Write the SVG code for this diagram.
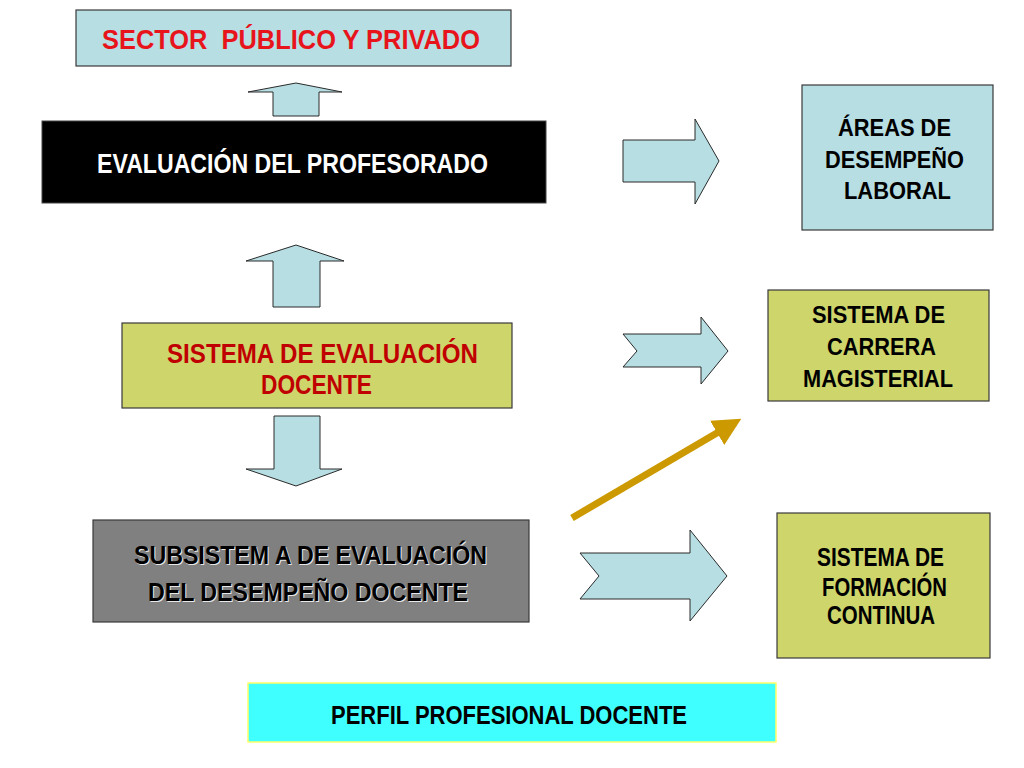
<svg xmlns="http://www.w3.org/2000/svg" width="1024" height="768" viewBox="0 0 1024 768">
<defs>
<style>
.t{font-family:"Liberation Sans Narrow","Liberation Sans",Arial,sans-serif;font-weight:bold;text-anchor:start;white-space:pre}
.box{stroke:#3a3a3a;stroke-width:1.2}
.lb{fill:#B7DEE3}
.ol{fill:#CED56B}
.arr{fill:#B7DEE3;stroke:#2a2a2a;stroke-width:1}
</style>
<marker id="gold" viewBox="0 0 10 10" refX="2" refY="5" markerWidth="4" markerHeight="4" orient="auto" markerUnits="strokeWidth">
<path d="M0,0 L10,5 L0,10 Z" fill="#CC9900"/>
</marker>
</defs>
<rect width="1024" height="768" fill="#ffffff"/>

<g id="connectors">
<polygon class="arr" points="273,116 319,116 319,92 342,92 296,83 248,92 273,92"/>
<polygon class="arr" points="273,307 320,307 320,261 344,261 296,245 246,261 273,261"/>
<polygon class="arr" points="274,416 320,416 320,469 342,469 296,486 246,469 274,469"/>
<polygon class="arr" points="623,140 695,140 695,119 719,161 695,204 695,182 623,182"/>
<polygon class="arr" points="623,334 701,334 701,317 728,351 701,384 701,367 623,367 637,351"/>
<polygon class="arr" points="580,553 690,553 690,530 727,576 690,621 690,599 580,599 599,576"/>
<line x1="572" y1="518" x2="722" y2="430" stroke="#CC9900" stroke-width="7" marker-end="url(#gold)"/>
</g>

<g id="sector">
<rect class="box lb" x="76" y="10" width="435" height="56"/>
<text class="t" x="102" y="49" font-size="28" fill="#E8141C" textLength="378" lengthAdjust="spacingAndGlyphs" xml:space="preserve">SECTOR  PÚBLICO Y PRIVADO</text>
</g>

<g id="evaluacion-profesorado">
<rect x="42" y="121" width="504" height="82" fill="#000000" stroke="#444" stroke-width="1"/>
<text class="t" x="97" y="173" font-size="27" fill="#ffffff" textLength="391" lengthAdjust="spacingAndGlyphs">EVALUACIÓN DEL PROFESORADO</text>
</g>

<g id="sistema-evaluacion">
<rect class="box ol" x="122" y="323" width="390" height="85"/>
<text class="t" x="167" y="363" font-size="27" fill="#C00000" textLength="311" lengthAdjust="spacingAndGlyphs">SISTEMA DE EVALUACIÓN</text>
<text class="t" x="261" y="394" font-size="27" fill="#C00000" textLength="111" lengthAdjust="spacingAndGlyphs">DOCENTE</text>
</g>

<g id="subsistema">
<rect class="box" x="93" y="520" width="436" height="102" fill="#808080"/>
<text class="t" x="135" y="565" font-size="25" fill="#e8e8e8" textLength="353" lengthAdjust="spacingAndGlyphs">SUBSISTEM A DE EVALUACIÓN</text>
<text class="t" x="149" y="602" font-size="25" fill="#e8e8e8" textLength="320" lengthAdjust="spacingAndGlyphs">DEL DESEMPEÑO DOCENTE</text>
<text class="t" x="134" y="564" font-size="25" fill="#000000" textLength="353" lengthAdjust="spacingAndGlyphs">SUBSISTEM A DE EVALUACIÓN</text>
<text class="t" x="148" y="601" font-size="25" fill="#000000" textLength="320" lengthAdjust="spacingAndGlyphs">DEL DESEMPEÑO DOCENTE</text>
</g>

<g id="areas">
<rect class="box lb" x="802" y="85" width="191" height="145"/>
<text class="t" x="838" y="136" font-size="24" fill="#000" textLength="113" lengthAdjust="spacingAndGlyphs">ÁREAS DE</text>
<text class="t" x="825" y="168" font-size="24" fill="#000" textLength="139" lengthAdjust="spacingAndGlyphs">DESEMPEÑO</text>
<text class="t" x="844" y="199" font-size="24" fill="#000" textLength="107" lengthAdjust="spacingAndGlyphs">LABORAL</text>
</g>

<g id="carrera">
<rect class="box ol" x="768" y="290" width="221" height="111"/>
<text class="t" x="812" y="323" font-size="24" fill="#000" textLength="133" lengthAdjust="spacingAndGlyphs">SISTEMA DE</text>
<text class="t" x="827" y="355" font-size="24" fill="#000" textLength="109" lengthAdjust="spacingAndGlyphs">CARRERA</text>
<text class="t" x="803" y="387" font-size="24" fill="#000" textLength="150" lengthAdjust="spacingAndGlyphs">MAGISTERIAL</text>
</g>

<g id="formacion">
<rect class="box ol" x="777" y="513" width="213" height="145"/>
<text class="t" x="817" y="566" font-size="25" fill="#000" textLength="127" lengthAdjust="spacingAndGlyphs">SISTEMA DE</text>
<text class="t" x="822" y="596" font-size="25" fill="#000" textLength="125" lengthAdjust="spacingAndGlyphs">FORMACIÓN</text>
<text class="t" x="827" y="624" font-size="25" fill="#000" textLength="108" lengthAdjust="spacingAndGlyphs">CONTINUA</text>
</g>

<g id="perfil">
<rect x="248" y="683" width="528" height="59" fill="#40FFFF" stroke="#FFFF66" stroke-width="1.5"/>
<text class="t" x="331" y="724" font-size="25" fill="#000" textLength="356" lengthAdjust="spacingAndGlyphs">PERFIL PROFESIONAL DOCENTE</text>
</g>
</svg>
